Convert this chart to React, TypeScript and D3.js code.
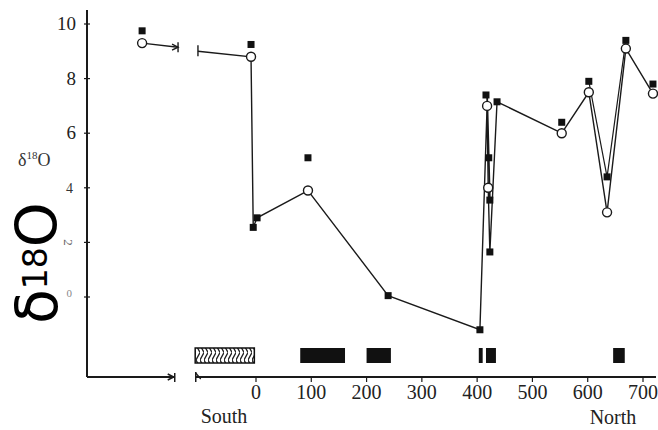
import React from "react";
import * as d3 from "d3";

const X_TICKS = [0, 100, 200, 300, 400, 500, 600, 700];
const Y_TICKS_MAIN = [10, 8, 6];
const Y_TICKS_SMALL = [4, 2, 0];

// open circles
const openX = [-206, -9, 94, 418, 420, 553, 602, 635, 669, 718];
const openY = [9.3, 8.8, 3.9, 7.0, 4.0, 6.0, 7.5, 3.1, 9.1, 7.45];

// filled symbols
const filledX = [-206, -9, -5, 2, 94, 239, 405, 416, 421, 423, 423, 436, 553, 602, 635, 669, 718];
const filledY = [9.75, 9.25, 2.55, 2.9, 5.1, 0.05, -1.2, 7.4, 5.1, 3.55, 1.65, 7.15, 6.4, 7.9, 4.4, 9.4, 7.8];

// connecting line, left (far south) segment and main segment
const leftLineX = [-206, -141];
const leftLineY = [9.3, 9.15];
const mainLineX = [-105, -9, -5, 2, 94, 239, 405, 418, 420, 423, 436, 553, 602, 635, 669, 718];
const mainLineY = [9.0, 8.8, 2.55, 2.9, 3.9, 0.05, -1.2, 7.0, 4.0, 1.65, 7.15, 6.0, 7.5, 3.1, 9.1, 7.45];
const sideLineX = [418, 421, 423];
const sideLineY = [7.4, 5.1, 3.55];
const vLineX = [602, 635, 669];
const vLineY = [7.9, 4.4, 9.4];

// bars along the bottom
const barStart = [-110, 80, 200, 403, 416, 646];
const barEnd = [-3, 161, 244, 410, 434, 667];
const barHatched = [true, false, false, false, false, false];

export default function App() {
  const x = d3.scaleLinear().domain([0, 700]).range([256, 643]);
  const y = d3.scaleLinear().domain([0, 10]).range([297, 24]);
  const line = d3.line<[number, number]>().x((d) => x(d[0])).y((d) => y(d[1]));
  const zip = (a: number[], b: number[]) => a.map((v, i) => [v, b[i]] as [number, number]);

  const axisY = 377;
  const axisX = 87;
  const leftEnd = x(-147);
  const rightStart = x(-109);
  const rightEnd = 656;
  const ink = "#1a1a1a";
  const serif = "'Liberation Serif', 'DejaVu Serif', serif";

  return (
    <div style={{ position: "absolute", left: 0, top: 0 }}>
      <svg width={658} height={430} style={{ display: "block", background: "#fff" }}>
        <defs>
          <pattern id="hatch" width="4" height="15" patternUnits="userSpaceOnUse">
            <rect width="4" height="15" fill="#fff" />
            <path d="M0,0 L4,7.5 L0,15" stroke="#222" strokeWidth="1.3" fill="none" />
          </pattern>
        </defs>

        {/* y axis */}
        <line x1={axisX} x2={axisX} y1={10} y2={axisY} stroke={ink} strokeWidth={2} />
        {[...Y_TICKS_MAIN, ...Y_TICKS_SMALL].map((t) => (
          <line key={"yt" + t} x1={axisX - 3} x2={axisX + 3} y1={y(t)} y2={y(t)} stroke={ink} strokeWidth={1.2} />
        ))}
        {Y_TICKS_MAIN.map((t) => (
          <text key={"yl" + t} x={76} y={y(t) + 6} textAnchor="end" fontFamily={serif} fontSize={19} fill="#222">
            {t}
          </text>
        ))}
        <text x={73} y={y(4) + 5} textAnchor="end" fontFamily={serif} fontSize={14} fill="#333">4</text>
        <text transform={`translate(68,${y(2)}) rotate(90)`} textAnchor="middle" fontFamily={serif} fontSize={13} fill="#666" dy={4}>2</text>
        <text x={72} y={y(0)} textAnchor="end" fontFamily={serif} fontSize={11} fill="#888">0</text>

        {/* small axis title */}
        <text x={18} y={166} fontFamily={serif} fontSize={18} fill="#333">
          δ<tspan fontSize={11} dy={-7}>18</tspan><tspan dy={7}>O</tspan>
        </text>

        {/* big rotated title */}
        <text transform="translate(57,324) rotate(-90)" fontFamily="'DejaVu Sans', 'Noto Sans', sans-serif" fontSize={57} fill="#000">
          δ<tspan fontSize={33} dy={-10}>18</tspan><tspan dy={10}>O</tspan>
        </text>

        {/* x axis: left piece */}
        <line x1={axisX} x2={leftEnd} y1={axisY} y2={axisY} stroke={ink} strokeWidth={2} />
        <path d={`M${leftEnd - 7},${axisY - 3} L${leftEnd - 1},${axisY} L${leftEnd - 7},${axisY + 3}`} stroke={ink} strokeWidth={1.5} fill="none" />
        <line x1={leftEnd} x2={leftEnd} y1={axisY - 4} y2={axisY + 5} stroke={ink} strokeWidth={1.5} />
        {/* x axis: right piece */}
        <line x1={rightStart} x2={rightEnd} y1={axisY} y2={axisY} stroke={ink} strokeWidth={2} />
        <line x1={rightStart} x2={rightStart} y1={axisY - 5} y2={axisY + 5} stroke={ink} strokeWidth={1.5} />
        <path d={`M${rightStart},${axisY - 4} L${rightStart + 5},${axisY + 2}`} stroke={ink} strokeWidth={1.2} fill="none" />
        {X_TICKS.map((t) => (
          <g key={"xt" + t}>
            <line x1={x(t)} x2={x(t)} y1={axisY} y2={axisY + 5} stroke={ink} strokeWidth={1.2} />
            <text x={x(t)} y={399} textAnchor="middle" fontFamily={serif} fontSize={20} fill="#222">
              {t}
            </text>
          </g>
        ))}
        <text x={224} y={423} textAnchor="middle" fontFamily={serif} fontSize={20} fill="#222">South</text>
        <text x={613} y={424} textAnchor="middle" fontFamily={serif} fontSize={20} fill="#222">North</text>

        {/* bars */}
        {barStart.map((s, i) => (
          <rect
            key={"bar" + i}
            x={x(s)}
            y={348}
            width={x(barEnd[i]) - x(s)}
            height={15}
            fill={barHatched[i] ? "url(#hatch)" : "#111"}
            stroke="#111"
            strokeWidth={barHatched[i] ? 1.5 : 0}
          />
        ))}

        {/* lines */}
        <path d={line(zip(leftLineX, leftLineY)) || ""} stroke={ink} strokeWidth={1.4} fill="none" />
        <path
          d={`M${x(-141) - 6},${y(9.15) - 3} L${x(-141)},${y(9.15)} L${x(-141) - 6},${y(9.15) + 3}`}
          stroke={ink}
          strokeWidth={1.4}
          fill="none"
        />
        <line x1={x(-141)} x2={x(-141)} y1={y(9.15) - 5} y2={y(9.15) + 5} stroke={ink} strokeWidth={1.4} />
        <line x1={x(-105)} x2={x(-105)} y1={y(9.0) - 6} y2={y(9.0) + 5} stroke={ink} strokeWidth={1.4} />
        <path d={line(zip(mainLineX, mainLineY)) || ""} stroke={ink} strokeWidth={1.4} fill="none" />
        <path d={line(zip(sideLineX, sideLineY)) || ""} stroke={ink} strokeWidth={1.8} fill="none" />
        <path d={line(zip(vLineX, vLineY)) || ""} stroke={ink} strokeWidth={1.2} fill="none" />

        {/* filled symbols */}
        {filledX.map((v, i) => (
          <rect key={"f" + i} x={x(v) - 3.5} y={y(filledY[i]) - 3.5} width={7} height={7} fill="#111" />
        ))}
        {/* open circles */}
        {openX.map((v, i) => (
          <circle key={"o" + i} cx={x(v)} cy={y(openY[i])} r={4.5} fill="#fff" stroke={ink} strokeWidth={1.4} />
        ))}
      </svg>
    </div>
  );
}
